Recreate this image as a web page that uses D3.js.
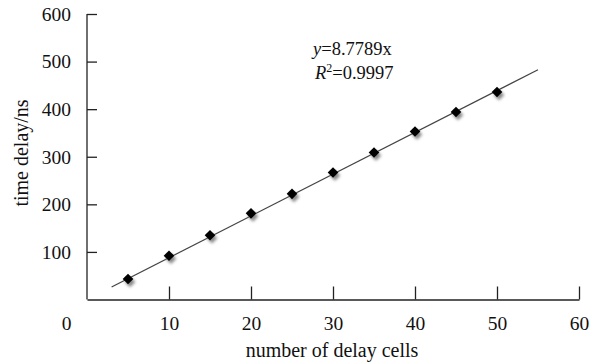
<!DOCTYPE html>
<html>
<head>
<meta charset="utf-8">
<script src="https://cdn.jsdelivr.net/npm/d3@7"></script>
<style>
    body { margin: 0; background: #fff; }
    text { font-family: "Liberation Serif", "Times New Roman", serif; fill: #111; }
</style>
</head>
<body>
<div id="grafico"></div>
<script>
    // datos
    const cells = [5, 10, 15, 20, 25, 30, 35, 40, 45, 50];
    const delays = [43, 92, 135, 181, 222, 267, 309, 353, 394, 436];
    const xTicks = [0, 10, 20, 30, 40, 50, 60];
    const yTicks = [100, 200, 300, 400, 500, 600];
    const slope = 8.7789;
    const fitRange = [3, 55];

    const width = 600;
    const height = 362;

    const xScale = d3.scaleLinear()
        .domain([0, 60])
        .range([87, 579]);

    const yScale = d3.scaleLinear()
        .domain([0, 600])
        .range([299.5, 14]);

    const svg = d3.select('#grafico')
        .append('svg')
        .attr('width', width)
        .attr('height', height);

    // sombra de los marcadores
    const defs = svg.append('defs');
    const f = defs.append('filter').attr('id', 'blur')
        .attr('x', '-100%').attr('y', '-100%').attr('width', '300%').attr('height', '300%');
    f.append('feGaussianBlur').attr('stdDeviation', 1.8);

    // Eje x, ticks hacia adentro
    const xAxis = d3.axisBottom(xScale)
        .tickValues(xTicks)
        .tickSizeInner(-13)
        .tickSizeOuter(0)
        .tickPadding(17);

    const gx = svg.append('g')
        .attr('transform', `translate(0, ${yScale(0)})`)
        .call(xAxis);
    gx.selectAll('.tick text')
        .attr('font-size', 19.5)
        .attr('dx', d => d === 0 ? -21 : 0);
    gx.selectAll('.tick line').filter(d => d === 0).remove();

    // Eje y
    const yAxis = d3.axisLeft(yScale)
        .tickValues(yTicks)
        .tickSizeInner(-10)
        .tickSizeOuter(0)
        .tickPadding(16);

    const gy = svg.append('g')
        .attr('transform', `translate(${xScale(0)}, 0)`)
        .call(yAxis);
    gy.selectAll('.tick text').attr('font-size', 19.5);
    gy.select('.domain').attr('d', `M0,${yScale(600)}V${yScale(0)}`);

    svg.selectAll('.domain, .tick line')
        .attr('stroke', '#222')
        .attr('stroke-width', 1.3);

    // recta de ajuste
    svg.append('line')
        .attr('x1', xScale(fitRange[0]))
        .attr('y1', yScale(slope * fitRange[0]))
        .attr('x2', xScale(fitRange[1]))
        .attr('y2', yScale(slope * fitRange[1]))
        .attr('stroke', '#444')
        .attr('stroke-width', 1.2);

    const diamond = d3.symbol().type(d3.symbolDiamond2).size(72);
    const pts = cells.map((c, i) => [c, delays[i]]);

    svg.selectAll('path.shadow')
        .data(pts)
        .enter()
        .append('path')
        .attr('class', 'shadow')
        .attr('d', diamond)
        .attr('transform', d => `translate(${xScale(d[0]) + 2}, ${yScale(d[1]) + 3})`)
        .attr('fill', '#888')
        .attr('filter', 'url(#blur)');

    svg.selectAll('path.dot')
        .data(pts)
        .enter()
        .append('path')
        .attr('class', 'dot')
        .attr('d', diamond)
        .attr('transform', d => `translate(${xScale(d[0])}, ${yScale(d[1])})`)
        .attr('fill', '#000');

    // ecuacion
    const eq1 = svg.append('text').attr('x', 313).attr('y', 55).attr('font-size', 18.5);
    eq1.append('tspan').attr('font-style', 'italic').text('y');
    eq1.append('tspan').text('=8.7789x');

    const eq2 = svg.append('text').attr('x', 315).attr('y', 79).attr('font-size', 18.5);
    eq2.append('tspan').attr('font-style', 'italic').text('R');
    eq2.append('tspan').attr('font-size', 12).attr('dy', -7).text('2');
    eq2.append('tspan').attr('dy', 7).text('=0.9997');

    // titulos de ejes
    svg.append('text')
        .attr('x', 332)
        .attr('y', 357)
        .attr('text-anchor', 'middle')
        .attr('font-size', 20)
        .text('number of delay cells');

    svg.append('text')
        .attr('transform', 'translate(28, 153) rotate(-90)')
        .attr('text-anchor', 'middle')
        .attr('font-size', 20)
        .text('time delay/ns');
</script>
</body>
</html>
